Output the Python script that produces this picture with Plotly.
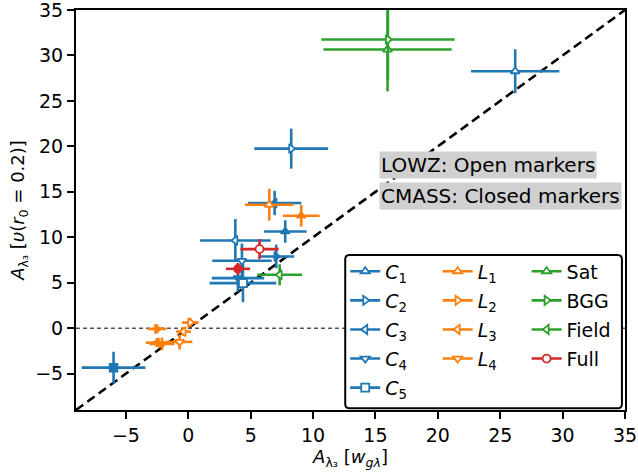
import plotly.graph_objects as go

# ---- data ----
names = ["C1", "C2", "C3", "C4", "C5", "L1", "L2", "L3", "L4", "Sat", "BGG", "Field", "Full"]
labels = ["<i>C</i><sub>1</sub>", "<i>C</i><sub>2</sub>", "<i>C</i><sub>3</sub>", "<i>C</i><sub>4</sub>",
          "<i>C</i><sub>5</sub>", "<i>L</i><sub>1</sub>", "<i>L</i><sub>2</sub>", "<i>L</i><sub>3</sub>",
          "<i>L</i><sub>4</sub>", "Sat", "BGG", "Field", "Full"]

# LOWZ (open markers)
lowz_x = [26.2, 8.25, 3.77, 4.30, 4.38, 6.49, 0.16, -0.38, -0.70, 15.97, 16.0, 7.32, 5.71]
lowz_xerr = [3.54, 2.96, 2.83, 2.38, 2.67, 1.95, 0.67, 0.6, 1.03, 5.14, 5.34, 1.8, 1.53]
lowz_y = [28.26, 19.75, 9.65, 7.41, 4.96, 13.58, 0.62, -0.37, -1.51, 30.65, 31.75, 5.87, 8.70]
lowz_yerr = [2.42, 2.2, 2.35, 1.9, 2.1, 1.75, 0.5, 0.5, 0.84, 4.6, 4.4, 1.16, 1.1]

# CMASS (closed markers); None = no CMASS point
cmass_x = [7.77, 7.05, 6.92, 3.98, -5.99, 9.05, -2.51, -2.51, -2.11, None, None, None, 3.98]
cmass_xerr = [1.71, 1.44, 2.14, 2.1, 2.55, 1.47, 0.76, 0.9, 1.0, None, None, None, 0.97]
cmass_y = [10.64, 7.89, 13.77, 5.51, -4.34, 12.37, -0.08, -1.59, -1.73, None, None, None, 6.53]
cmass_yerr = [1.23, 1.3, 1.34, 1.5, 1.75, 1.2, 0.5, 0.5, 0.7, None, None, None, 0.64]

x_ticks = [-5, 0, 5, 10, 15, 20, 25, 30, 35]
y_ticks = [-5, 0, 5, 10, 15, 20, 25, 30, 35]
axis_range = [-9, 35]

# ---- styles ----
BLUE, ORANGE, GREEN, RED = "#1f77b4", "#ff7f0e", "#2ca02c", "#d62728"
colors = [BLUE] * 5 + [ORANGE] * 4 + [GREEN] * 3 + [RED]
symbols = ["triangle-up", "triangle-right", "triangle-left", "triangle-down", "square",
           "triangle-up", "triangle-right", "triangle-left", "triangle-down",
           "triangle-up", "triangle-right", "triangle-left", "circle"]
legends = ["legend"] * 5 + ["legend2"] * 4 + ["legend3"] * 4
FONT = "DejaVu Sans"
EB = 2.6
MS = 8

fig = go.Figure()

for i, n in enumerate(names):
    c = colors[i]
    fig.add_trace(go.Scatter(
        x=[lowz_x[i]], y=[lowz_y[i]], mode="lines+markers", name=labels[i],
        legend=legends[i], legendgroup=n,
        line=dict(color=c, width=EB),
        marker=dict(symbol=symbols[i], size=MS, color="white", line=dict(color=c, width=1.8)),
        error_x=dict(type="data", array=[lowz_xerr[i]], color=c, thickness=EB, width=0),
        error_y=dict(type="data", array=[lowz_yerr[i]], color=c, thickness=EB, width=0),
    ))
    if cmass_x[i] is not None:
        fig.add_trace(go.Scatter(
            x=[cmass_x[i]], y=[cmass_y[i]], mode="markers", name=labels[i],
            legend=legends[i], legendgroup=n, showlegend=False,
            marker=dict(symbol=symbols[i], size=MS, color=c, line=dict(color=c, width=1.5)),
            error_x=dict(type="data", array=[cmass_xerr[i]], color=c, thickness=EB, width=0),
            error_y=dict(type="data", array=[cmass_yerr[i]], color=c, thickness=EB, width=0),
        ))

# reference lines
fig.add_shape(type="line", xref="paper", x0=0, x1=1, yref="y", y0=0, y1=0,
              line=dict(color="black", width=1, dash="4px,3px"), layer="below")
fig.add_shape(type="line", xref="x", yref="y", x0=axis_range[0], y0=axis_range[0],
              x1=axis_range[1], y1=axis_range[1],
              line=dict(color="black", width=2.6, dash="9px,5px"), layer="below")

# legend box (rounded)
lx0, lx1, ly0, ly1 = 0.4904, 0.9944, 0.0043, 0.3875
rx, ry = 0.008, 0.011
path = (f"M{lx0+rx},{ly0} L{lx1-rx},{ly0} Q{lx1},{ly0} {lx1},{ly0+ry} "
        f"L{lx1},{ly1-ry} Q{lx1},{ly1} {lx1-rx},{ly1} L{lx0+rx},{ly1} "
        f"Q{lx0},{ly1} {lx0},{ly1-ry} L{lx0},{ly0+ry} Q{lx0},{ly0} {lx0+rx},{ly0} Z")
fig.add_shape(type="path", xref="paper", yref="paper", path=path,
              fillcolor="white", line=dict(color="black", width=2), layer="above")

ann_style = dict(xref="paper", yref="paper", xanchor="left", yanchor="middle", showarrow=False,
                 bgcolor="#d0d0d0", borderpad=1, font=dict(family=FONT, size=20, color="black"))
fig.add_annotation(x=0.5524, y=0.6133, text="LOWZ: Open markers", **ann_style)
fig.add_annotation(x=0.5524, y=0.534, text="CMASS: Closed markers", **ann_style)

leg_common = dict(bgcolor="rgba(0,0,0,0)", borderwidth=0, xanchor="left", yanchor="top",
                  font=dict(family=FONT, size=19, color="black"), tracegroupgap=1.4,
                  itemsizing="trace", orientation="v")
axis_common = dict(range=axis_range, showgrid=False, zeroline=False, showline=True,
                   linecolor="black", linewidth=2, mirror=True, ticks="outside",
                   ticklen=7, tickwidth=1.6, tickcolor="black", automargin=False,
                   ticklabeloverflow="allow",
                   tickfont=dict(family=FONT, size=19, color="black"))

fig.update_layout(
    width=638, height=472,
    margin=dict(l=76, r=13, t=10, b=62),
    paper_bgcolor="white", plot_bgcolor="white",
    font=dict(family=FONT, size=19, color="black"),
    xaxis=dict(tickvals=x_ticks, title=dict(text="<i>A</i><sub>λ₃</sub> [<i>w</i><sub><i>gλ</i></sub>]",
               font=dict(family=FONT, size=18), standoff=2), **axis_common),
    yaxis=dict(tickvals=y_ticks, title=dict(text="<i>A</i><sub>λ₃</sub> [<i>υ</i>(<i>r</i><sub>0</sub> = 0.2)]",
               font=dict(family=FONT, size=18), standoff=6), **axis_common),
    legend=dict(x=0.4904, y=0.394, **leg_common),
    legend2=dict(x=0.6587, y=0.394, **leg_common),
    legend3=dict(x=0.8208, y=0.394, **leg_common),
    showlegend=True,
)

# remove the browser's default 8px page margin so the figure fills the window exactly
fig.write_html("out.html", config={"displayModeBar": False},
               post_script="document.body.style.margin='0';")
